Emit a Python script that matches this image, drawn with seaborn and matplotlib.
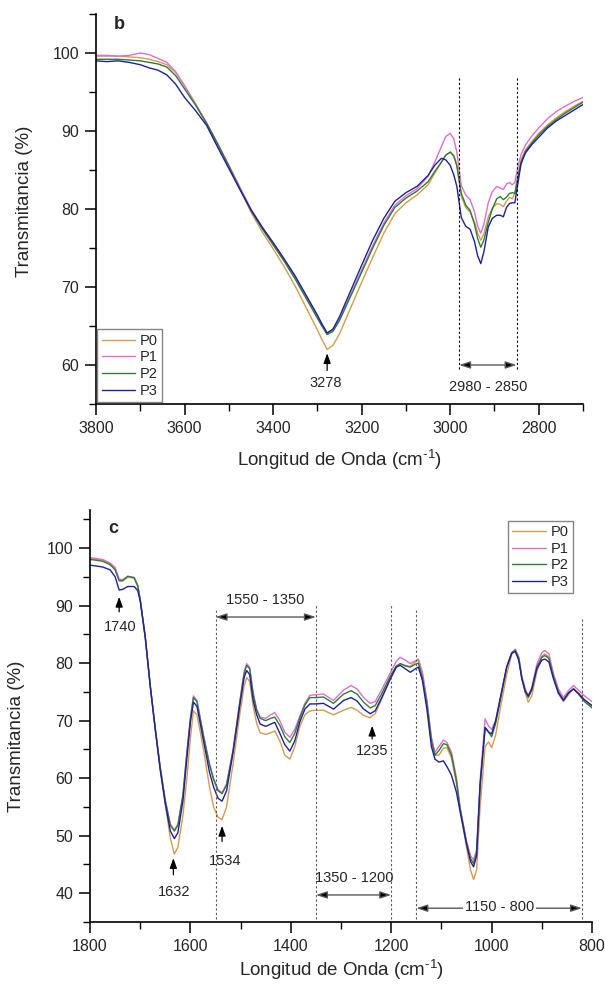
import matplotlib
matplotlib.use("Agg")
import matplotlib.pyplot as plt
from matplotlib.ticker import MultipleLocator
import pandas as pd
import seaborn as sns

sns.set_theme(style="ticks")
plt.rcParams["font.family"] = ["Liberation Sans", "DejaVu Sans"]
plt.rcParams["mathtext.fontset"] = "custom"
plt.rcParams["mathtext.rm"] = "Liberation Sans"
plt.rcParams["mathtext.it"] = "Liberation Sans:italic"
plt.rcParams["mathtext.bf"] = "Liberation Sans:bold"

samples = ["P0", "P1", "P2", "P3"]
palette = {"P0": "#D89A4E", "P1": "#DD6FD0", "P2": "#2E7D32", "P3": "#1F1FA0"}

# ---------------- panel b : 3800 - 2700 cm-1 ----------------
wn_b = [3800, 3775, 3750, 3725, 3700, 3680, 3660, 3640, 3620, 3600, 3575, 3550,
        3525, 3500, 3475, 3450, 3425, 3400, 3375, 3350, 3325, 3300, 3290, 3278,
        3265, 3250, 3225, 3200, 3175, 3150, 3125, 3100, 3075, 3050, 3035, 3020,
        3010, 3000, 2992, 2985, 2975, 2965, 2955, 2945, 2938, 2931, 2924, 2914,
        2905, 2895, 2887, 2880, 2873, 2866, 2860, 2854, 2848, 2840, 2830, 2815,
        2800, 2780, 2760, 2740, 2720, 2700]
p0_b = [99.6, 99.6, 99.6, 99.5, 99.4, 99.2, 98.9, 98.5, 97.5, 95.8, 93.5, 91.0,
        88.4, 85.6, 82.6, 79.6, 77.1, 74.9, 72.6, 70.1, 67.3, 64.5, 63.3, 62.0,
        62.5, 64.0, 67.3, 70.6, 73.8, 76.9, 79.4, 80.8, 81.8, 83.1, 84.6, 86.0,
        86.9, 87.3, 86.9, 85.7, 81.6, 80.2, 79.6, 78.3, 76.9, 76.0, 76.8, 79.0,
        80.1, 80.7, 80.6, 80.3, 81.0, 81.5, 81.3, 82.0, 84.0, 86.3, 87.6, 88.7,
        89.7, 90.8, 91.7, 92.5, 93.2, 93.8]
p1_b = [99.7, 99.7, 99.6, 99.7, 100.0, 99.8, 99.3, 98.8, 97.6, 95.8, 93.4, 90.9,
        88.3, 85.6, 82.8, 80.0, 77.7, 75.6, 73.5, 71.2, 68.7, 66.2, 65.2, 64.1,
        64.5, 65.9, 69.0, 72.2, 75.3, 78.2, 80.5, 81.7, 82.6, 84.2, 86.0, 88.0,
        89.3, 89.7, 89.0, 87.3, 83.0, 81.8, 81.2, 79.6, 77.8, 76.9, 78.0, 80.8,
        82.2, 82.9, 82.7, 82.5, 83.2, 83.4, 83.1, 83.4, 85.2, 87.0, 88.2, 89.4,
        90.4, 91.6, 92.5, 93.2, 93.8, 94.3]
p2_b = [99.2, 99.2, 99.2, 99.1, 99.0, 98.8, 98.6, 98.2, 97.1, 95.4, 93.3, 91.0,
        88.3, 85.5, 82.6, 79.8, 77.5, 75.4, 73.3, 71.0, 68.5, 66.0, 65.0, 63.9,
        64.3, 65.7, 68.8, 71.9, 75.0, 77.9, 80.2, 81.4, 82.3, 83.5, 84.8, 86.0,
        86.9, 87.3, 86.8, 85.5, 82.0, 80.5, 79.8, 78.0, 76.2, 75.1, 76.0, 78.3,
        80.0, 81.3, 81.6, 81.2, 81.5, 82.0, 82.1, 82.0, 83.8, 86.0, 87.4, 88.5,
        89.5, 90.6, 91.5, 92.3, 93.0, 93.7]
p3_b = [99.0, 98.9, 99.0, 98.8, 98.5, 98.1, 97.8, 97.2, 96.0, 94.3, 92.6, 90.7,
        87.9, 85.2, 82.5, 79.9, 77.7, 75.7, 73.6, 71.4, 68.9, 66.4, 65.3, 64.1,
        64.6, 66.2, 69.5, 72.8, 76.0, 78.8, 81.0, 82.1, 82.9, 84.3, 85.6, 86.5,
        86.3, 85.6, 84.4, 82.9, 78.9, 77.8, 77.4, 75.8, 74.0, 73.0, 74.5, 77.7,
        78.8, 79.2, 79.2, 79.0, 80.2, 80.7, 80.8, 80.8, 83.0, 85.8, 87.2, 88.3,
        89.2, 90.4, 91.3, 92.0, 92.7, 93.4]

# ---------------- panel c : 1800 - 800 cm-1 ----------------
wn_c = [1800, 1790, 1775, 1760, 1750, 1742, 1735, 1725, 1712, 1705, 1700, 1690,
        1680, 1670, 1660, 1650, 1640, 1632, 1625, 1615, 1607, 1600, 1594, 1587,
        1574, 1562, 1554, 1545, 1537, 1528, 1515, 1501, 1493, 1488, 1482, 1475,
        1468, 1461, 1450, 1440, 1432, 1422, 1412, 1402, 1392, 1382, 1372, 1362,
        1350, 1335, 1315, 1295, 1280, 1268, 1255, 1242, 1232, 1220, 1202, 1190,
        1182, 1172, 1162, 1152, 1146, 1138, 1129, 1120, 1113, 1105, 1096, 1089,
        1080, 1070, 1063, 1050, 1042, 1036, 1030, 1023, 1013, 1006, 1000, 992,
        983, 970, 960, 953, 946, 940, 933, 927, 920, 910, 900, 894, 886, 877,
        867, 857, 847, 837, 827, 815, 800]
p0_c = [98.2, 98.1, 97.9, 97.3, 96.5, 94.4, 94.3, 94.9, 94.8, 93.5, 91.0, 84.5,
        76.0, 68.5, 61.5, 55.5, 49.5, 46.8, 48.0, 53.5, 60.0, 67.0, 71.7, 71.0,
        65.0, 58.5, 55.0, 53.2, 52.8, 55.0, 62.5, 71.5, 76.0, 77.5, 76.8, 72.5,
        69.5, 67.9, 67.6, 67.9, 68.2, 66.5, 64.0, 63.3, 65.5, 69.0, 71.0, 71.7,
        71.8, 71.8, 71.0, 71.8, 72.3, 71.8, 70.9, 70.5, 71.2, 73.5, 77.2, 79.3,
        79.9, 79.6, 79.4, 80.2, 80.7, 78.5, 73.5, 67.0, 64.0, 64.0, 65.2, 65.3,
        63.5, 59.0, 54.5, 48.0, 44.0, 42.4, 44.0, 55.0, 65.5, 66.3, 65.3, 67.5,
        72.0, 78.0, 81.5, 82.4, 81.0, 77.5, 74.8, 73.2, 74.3, 78.5, 81.2, 81.6,
        81.0, 77.5, 74.7, 73.3, 74.5, 75.6, 74.8, 73.6, 72.5]
p1_c = [98.3, 98.2, 98.0, 97.4, 96.6, 94.6, 94.5, 95.0, 94.9, 93.5, 91.0, 84.5,
        76.0, 68.5, 61.8, 56.2, 52.0, 51.0, 52.0, 57.0, 64.5, 70.5, 74.3, 73.5,
        67.5, 62.5, 60.0, 58.0, 57.5, 59.0, 65.0, 73.8, 78.5, 79.9, 79.3, 74.8,
        72.0, 70.6, 70.4, 71.0, 71.4, 70.0, 68.0, 67.1, 68.5, 70.8, 73.0, 74.4,
        74.5, 74.6, 73.5, 75.3, 76.1, 75.5, 74.0, 73.0, 73.3, 75.2, 78.3, 80.3,
        81.0, 80.5, 79.9, 80.4, 80.5, 78.2, 73.5, 67.0, 64.5, 65.5, 66.6, 66.2,
        64.5, 60.0, 55.0, 49.0, 46.5, 45.8, 47.5, 59.5, 70.3, 69.0, 68.5, 70.0,
        73.8, 79.3, 81.8, 82.4, 81.0, 77.8, 75.5, 74.3, 75.8, 79.8, 81.8, 82.2,
        81.6, 78.2, 75.5, 74.0, 75.2, 76.1, 75.3, 74.3, 73.3]
p2_c = [98.0, 97.9, 97.7, 97.1, 96.2, 94.3, 94.3, 95.1, 94.8, 93.4, 91.0, 84.5,
        76.0, 68.5, 61.8, 56.0, 51.8, 50.8, 51.8, 57.0, 64.5, 70.3, 74.0, 73.3,
        67.3, 62.3, 59.8, 57.8, 57.3, 58.8, 64.8, 73.5, 78.2, 79.6, 79.0, 74.5,
        71.8, 70.4, 70.0, 70.4, 70.6, 69.2, 67.2, 66.2, 67.8, 70.5, 72.7, 74.0,
        74.0, 74.1, 73.0, 74.6, 75.2, 74.6, 73.2, 72.2, 72.6, 74.5, 77.7, 79.5,
        79.9, 79.5, 79.3, 79.8, 80.0, 77.5, 73.0, 66.5, 64.0, 64.8, 66.0, 65.8,
        64.0, 59.5, 54.8, 48.8, 46.0, 45.2, 47.0, 58.5, 68.8, 68.0, 67.2, 69.5,
        73.5, 79.3, 81.8, 82.2, 80.8, 77.5, 75.2, 74.0, 75.3, 79.3, 81.0, 81.3,
        80.8, 77.7, 75.0, 73.6, 74.8, 75.5, 74.6, 73.3, 72.2]
p3_c = [97.0, 96.9, 96.7, 96.2, 95.0, 92.7, 92.8, 93.3, 93.3, 92.6, 90.8, 84.5,
        76.0, 68.5, 61.3, 55.5, 50.8, 49.5, 50.5, 56.0, 63.5, 69.8, 73.2, 72.5,
        66.5, 61.0, 58.5, 56.5, 56.0, 57.8, 64.5, 73.0, 77.5, 78.7, 78.0, 73.5,
        71.0, 69.4, 69.0, 69.4, 69.7, 67.8, 65.8, 64.7, 66.5, 69.8, 72.0, 72.9,
        72.9, 73.0, 72.0, 73.5, 74.0, 73.4, 72.0, 71.2, 71.7, 73.8, 77.2, 79.3,
        79.6, 79.0, 78.4, 79.0, 79.3, 77.0, 72.0, 65.5, 63.3, 62.8, 63.0, 62.0,
        60.5, 57.5, 54.3, 48.5, 45.5, 44.6, 46.5, 58.9, 68.8, 68.0, 67.7, 70.0,
        73.8, 79.3, 81.7, 82.0, 80.5, 77.3, 75.0, 74.3, 75.5, 79.0, 80.5, 80.7,
        80.2, 77.3, 74.8, 73.5, 74.8, 75.5, 74.7, 73.6, 72.6]

# band marks and peak labels
peaks_b = [3278]
band_b = (2980, 2850)
peaks_c = [1740, 1632, 1534, 1235]
bands_c = [(1550, 1350), (1350, 1200), (1150, 800)]
band_edges_c = [1550, 1350, 1200, 1150, 820]


def long_frame(wn, series):
    rows = []
    for name, vals in zip(samples, series):
        rows.append(pd.DataFrame({"wn": wn, "T": vals, "Muestra": name}))
    return pd.concat(rows, ignore_index=True)


df_b = long_frame(wn_b, [p0_b, p1_b, p2_b, p3_b])
df_c = long_frame(wn_c, [p0_c, p1_c, p2_c, p3_c])

fig = plt.figure(figsize=(6.05, 9.88), dpi=100)
ax_b = fig.add_axes([0.1587, 0.5911, 0.805, 0.3947])
ax_c = fig.add_axes([0.1488, 0.0668, 0.8298, 0.417])

xlabel_text = r"Longitud de Onda (cm$^{\text{-1}}$)"

for ax, df in ((ax_b, df_b), (ax_c, df_c)):
    sns.lineplot(data=df, x="wn", y="T", hue="Muestra", hue_order=samples,
                 palette=palette, linewidth=1.0, estimator=None, sort=False,
                 ax=ax)
    sns.despine(ax=ax)
    for side in ("left", "bottom"):
        ax.spines[side].set_linewidth(1.2)
        ax.spines[side].set_color("black")
    ax.tick_params(which="major", direction="out", length=8, width=1.1,
                   labelsize=11.5, pad=4, color="black")
    ax.tick_params(which="minor", direction="out", length=5, width=1.0,
                   color="black")
    ax.xaxis.set_major_locator(MultipleLocator(200))
    ax.xaxis.set_minor_locator(MultipleLocator(100))
    ax.yaxis.set_major_locator(MultipleLocator(10))
    ax.yaxis.set_minor_locator(MultipleLocator(5))
    ax.set_xlabel(xlabel_text, fontsize=13.5)
    ax.set_ylabel("Transmitancia (%)", fontsize=13.5)

ax_b.set_xlim(3800, 2700)
ax_b.set_ylim(55, 105)
ax_c.set_xlim(1800, 800)
ax_c.set_ylim(35, 106.6)

ax_b.xaxis.set_label_coords(0.5, -0.112)
ax_b.yaxis.set_label_coords(-0.129, 0.52)
ax_c.xaxis.set_label_coords(0.5, -0.086)
ax_c.yaxis.set_label_coords(-0.129, 0.45)

legend_kw = dict(frameon=True, fancybox=False, edgecolor="0.4", fontsize=10.5,
                 handlelength=2.3, handletextpad=0.3, labelspacing=0.18,
                 borderpad=0.3, borderaxespad=0.0, title=None)
leg = ax_b.legend(loc="lower left", bbox_to_anchor=(0.003, 0.005), **legend_kw)
leg.get_frame().set_linewidth(1.0)
leg = ax_c.legend(loc="upper right", bbox_to_anchor=(0.9616, 0.974), **legend_kw)
leg.get_frame().set_linewidth(1.0)

ann_fs = 10.5
up_arrow = dict(arrowstyle="-|>,head_length=0.5,head_width=0.18",
                color="black", lw=0.9, shrinkA=0, shrinkB=0)
span_arrow = dict(arrowstyle="<|-|>,head_length=0.55,head_width=0.18",
                  ec="0.35", fc="black", lw=1.0, shrinkA=0, shrinkB=0)
dotted = dict(color="0.35", lw=0.8, ls=(0, (2, 2)))

# panel b annotations
ax_b.text(0.037, 0.974, "b", transform=ax_b.transAxes, fontsize=13,
          fontweight="bold", ha="left", va="center")
for p in peaks_b:
    ax_b.annotate("", xy=(p, 61.5), xytext=(p, 59.3), arrowprops=up_arrow)
    ax_b.text(p + 4, 57.7, f"{p}", fontsize=ann_fs, ha="center", va="center")
for edge in band_b:
    ax_b.plot([edge, edge], [59.5, 97.0], color="black", lw=0.8,
              ls=(0, (2, 2)))
ax_b.annotate("", xy=(band_b[1], 60.0), xytext=(band_b[0], 60.0),
              arrowprops=span_arrow)
ax_b.text(sum(band_b) / 2, 57.2, f"{band_b[0]} - {band_b[1]}", fontsize=ann_fs,
          ha="center", va="center")

# panel c annotations
ax_c.text(0.036, 0.956, "c", transform=ax_c.transAxes, fontsize=13,
          fontweight="bold", ha="left", va="center")
peak_geom = {1740: (1742, 91.5, 88.9, 1740, 86.2),
             1632: (1634, 46.1, 43.2, 1632, 40.2),
             1534: (1537, 51.7, 49.0, 1530, 45.6),
             1235: (1238, 69.1, 66.8, 1238, 64.7)}
for p in peaks_c:
    xa, tip, tail, xl, yl = peak_geom[p]
    ax_c.annotate("", xy=(xa, tip), xytext=(xa, tail), arrowprops=up_arrow)
    ax_c.text(xl, yl, f"{p}", fontsize=ann_fs, ha="center", va="center")

edge_tops = [89.5, 90.1, 90.3, 89.2, 88.0]
for edge, top in zip(band_edges_c, edge_tops):
    ax_c.plot([edge, edge], [35.6, top], **dotted)

span_geom = [(1550, 1350, 88.0, 1452, 91.0, False),
             (1350, 1200, 39.7, 1273, 42.6, False),
             (1150, 820, 37.4, 985, 37.6, True)]
for (lo, hi), (a, b, ya, xt, yt, boxed) in zip(bands_c, span_geom):
    ax_c.annotate("", xy=(b, ya), xytext=(a, ya), arrowprops=span_arrow)
    bbox = dict(facecolor="white", edgecolor="none", pad=1.5) if boxed else None
    ax_c.text(xt, yt, f"{lo} - {hi}", fontsize=ann_fs, ha="center",
              va="center", bbox=bbox)

fig.savefig("out.png", dpi=100)
